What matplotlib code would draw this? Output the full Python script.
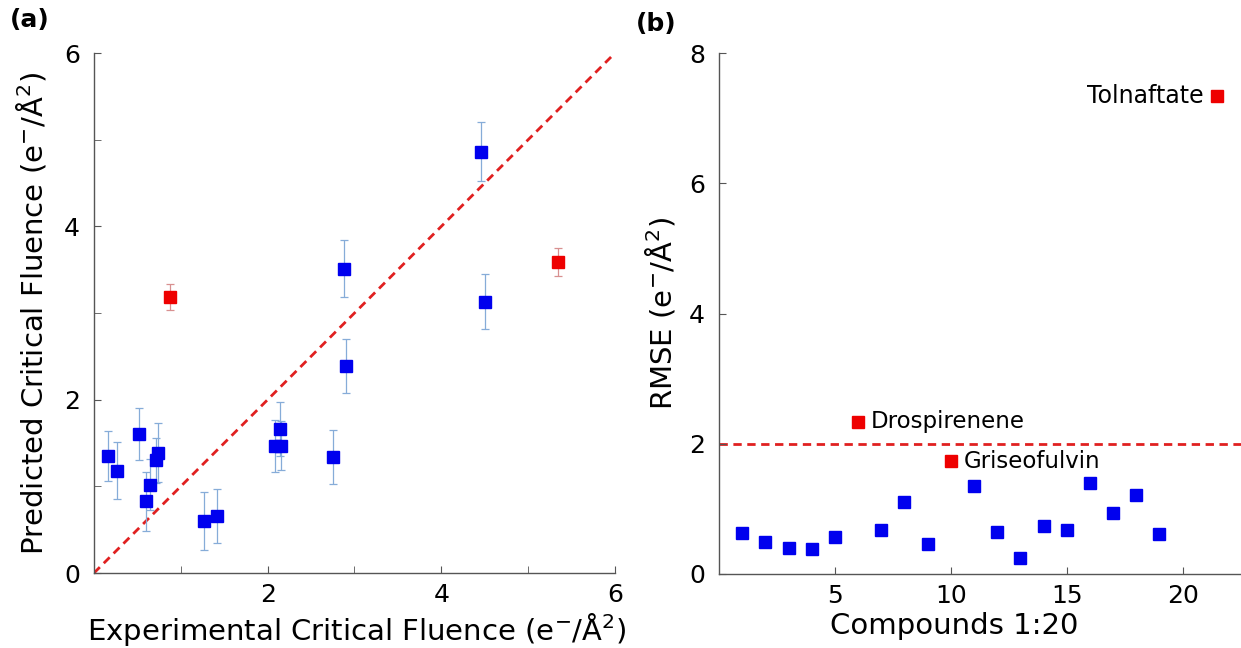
import matplotlib
matplotlib.use("Agg")
import matplotlib.pyplot as plt

plt.rcParams["font.family"] = "DejaVu Sans"

# (a) experimental vs predicted critical fluence
exp_blue = [0.16, 0.27, 0.52, 0.60, 0.64, 0.71, 0.74, 1.27, 1.42, 2.08, 2.15, 2.14, 2.75, 2.88, 2.90, 4.46, 4.50]
pred_blue = [1.35, 1.18, 1.60, 0.83, 1.02, 1.30, 1.39, 0.60, 0.66, 1.46, 1.47, 1.66, 1.34, 3.51, 2.39, 4.86, 3.13]
err_blue = [0.29, 0.33, 0.30, 0.34, 0.29, 0.26, 0.34, 0.34, 0.31, 0.30, 0.28, 0.31, 0.31, 0.33, 0.31, 0.34, 0.32]

exp_red = [0.87, 5.34]
pred_red = [3.19, 3.59]
err_red = [0.15, 0.16]

# (b) RMSE per compound
comp_blue = [1, 2, 3, 4, 5, 7, 8, 9, 11, 12, 13, 14, 15, 16, 17, 18, 19]
rmse_blue = [0.63, 0.49, 0.40, 0.39, 0.57, 0.67, 1.10, 0.46, 1.35, 0.64, 0.25, 0.74, 0.67, 1.39, 0.94, 1.22, 0.62]

red_names = ["Drospirenene", "Griseofulvin", "Tolnaftate"]
comp_red = [6, 10, 21.5]
rmse_red = [2.34, 1.73, 7.34]

threshold = 2.0

BLUE = "#0000ee"
RED = "#ee0000"
SPINE = "#555555"
LABEL_SIZE = 21
TICK_SIZE = 18

fig = plt.figure(figsize=(12.41, 6.48), dpi=100)
ax1 = fig.add_axes([0.0757, 0.1157, 0.4199, 0.8025])
ax2 = fig.add_axes([0.5794, 0.1142, 0.4206, 0.8040])

for ax in (ax1, ax2):
    ax.spines["top"].set_visible(False)
    ax.spines["right"].set_visible(False)
    for s in ("left", "bottom"):
        ax.spines[s].set_color(SPINE)
        ax.spines[s].set_linewidth(1.0)
    ax.tick_params(which="both", direction="in", color=SPINE, labelsize=TICK_SIZE, length=5)
    ax.tick_params(axis="x", pad=7)
    ax.tick_params(axis="y", pad=10)

# panel (a)
ax1.plot([0, 6], [0, 6], color="#e02020", lw=2, linestyle=(0, (3, 2)), zorder=1)
ax1.errorbar(exp_blue, pred_blue, yerr=err_blue, fmt="s", color=BLUE, ms=9,
             ecolor="#86acd8", elinewidth=0.9, capsize=3, capthick=0.9, zorder=3)
ax1.errorbar(exp_red, pred_red, yerr=err_red, fmt="s", color=RED, ms=9,
             ecolor="#d89090", elinewidth=0.9, capsize=3, capthick=0.9, zorder=3)
ax1.set_xlim(0, 6)
ax1.set_ylim(0, 6)
ax1.set_xticks([2, 4, 6])
ax1.set_xticks([1, 3, 5], minor=True)
ax1.set_yticks([0, 2, 4, 6])
ax1.set_yticks([1, 3, 5], minor=True)
ax1.set_xlabel("Experimental Critical Fluence (e$^{-}$/Å$^{2}$)", fontsize=LABEL_SIZE, va="top")
ax1.set_ylabel("Predicted Critical Fluence (e$^{-}$/Å$^{2}$)", fontsize=LABEL_SIZE)
ax1.xaxis.set_label_coords(0.505, -0.073)
ax1.yaxis.set_label_coords(-0.088, 0.5)

# panel (b)
ax2.axhline(threshold, color="#e02020", lw=2, linestyle=(0, (3, 2)), zorder=1)
ax2.plot(comp_blue, rmse_blue, "s", color=BLUE, ms=9, zorder=3)
ax2.plot(comp_red, rmse_red, "s", color=RED, ms=9, zorder=3)
for name, cx, cy in zip(red_names, comp_red, rmse_red):
    if name == "Tolnaftate":
        ax2.annotate(name, (cx, cy), xytext=(-10, 0), textcoords="offset points",
                     ha="right", va="center", fontsize=17)
    else:
        ax2.annotate(name, (cx, cy), xytext=(9, 0), textcoords="offset points",
                     ha="left", va="center", fontsize=16.5)
ax2.set_xlim(0, 22.52)
ax2.set_ylim(0, 8)
ax2.set_xticks([5, 10, 15, 20])
ax2.set_yticks([0, 2, 4, 6, 8])
ax2.set_xlabel("Compounds 1:20", fontsize=LABEL_SIZE, va="top")
ax2.set_ylabel("RMSE (e$^{-}$/Å$^{2}$)", fontsize=LABEL_SIZE)
ax2.xaxis.set_label_coords(0.451, -0.073)
ax2.yaxis.set_label_coords(-0.080, 0.5)

fig.text(0.008, 0.988, "(a)", fontsize=18, fontweight="bold", va="top", ha="left")
fig.text(0.512, 0.982, "(b)", fontsize=18, fontweight="bold", va="top", ha="left")

fig.savefig("out.png", dpi=100)
